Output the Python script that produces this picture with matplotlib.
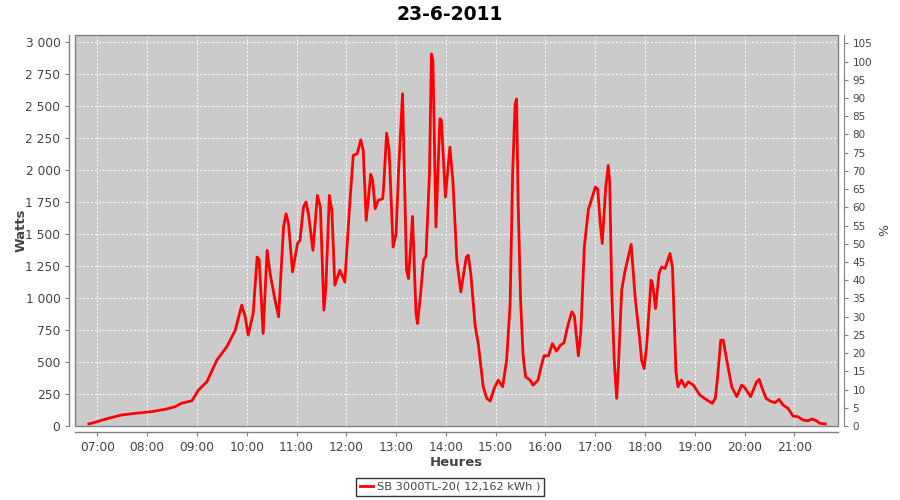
import matplotlib
matplotlib.use("Agg")
import matplotlib.pyplot as plt
from matplotlib.ticker import FixedLocator, FuncFormatter
from matplotlib.patches import Rectangle

title = "23-6-2011"
series_name = "SB 3000TL-20( 12,162 kWh )"

# time in decimal hours
hours = [6.83, 7.00, 7.22, 7.49, 7.76, 8.09, 8.36, 8.56, 8.69, 8.90,
         9.03, 9.20, 9.40, 9.60, 9.77, 9.90, 9.97, 10.03, 10.13, 10.21,
         10.25, 10.33, 10.41, 10.47, 10.57, 10.64, 10.74, 10.79, 10.84, 10.92,
         11.02, 11.07, 11.14, 11.19, 11.24, 11.33, 11.42, 11.48, 11.55, 11.59,
         11.66, 11.71, 11.77, 11.87, 11.97, 12.07, 12.14, 12.22, 12.29, 12.34,
         12.40, 12.49, 12.53, 12.58, 12.64, 12.73, 12.75, 12.81, 12.86, 12.94,
         13.00, 13.05, 13.13, 13.21, 13.25, 13.33, 13.40, 13.43, 13.49, 13.55,
         13.60, 13.67, 13.71, 13.74, 13.80, 13.88, 13.91, 13.99, 14.08, 14.14,
         14.22, 14.30, 14.41, 14.45, 14.50, 14.59, 14.65, 14.68, 14.75, 14.82,
         14.89, 14.97, 15.05, 15.14, 15.22, 15.29, 15.34, 15.39, 15.42, 15.45,
         15.50, 15.55, 15.60, 15.69, 15.75, 15.85, 15.92, 15.97, 16.06, 16.14,
         16.22, 16.30, 16.37, 16.46, 16.53, 16.58, 16.66, 16.71, 16.78, 16.86,
         16.93, 17.00, 17.05, 17.10, 17.14, 17.21, 17.26, 17.29, 17.33, 17.38,
         17.43, 17.46, 17.53, 17.60, 17.72, 17.80, 17.89, 17.93, 17.98, 18.03,
         18.12, 18.15, 18.21, 18.28, 18.33, 18.40, 18.50, 18.55, 18.62, 18.66,
         18.73, 18.80, 18.87, 18.97, 19.10, 19.24, 19.35, 19.41, 19.45, 19.52,
         19.57, 19.64, 19.74, 19.84, 19.94, 20.00, 20.12, 20.24, 20.29, 20.34,
         20.43, 20.51, 20.61, 20.69, 20.77, 20.87, 20.97, 21.07, 21.17, 21.27,
         21.36, 21.44, 21.51, 21.62]

watts = [16, 34, 60, 86, 99, 112, 130, 150, 177, 197,
         280, 345, 514, 618, 748, 943, 852, 709, 878, 1319,
         1300, 722, 1371, 1190, 982, 852, 1553, 1657, 1579, 1202,
         1424, 1449, 1709, 1748, 1657, 1371, 1800, 1709, 904, 1085,
         1800, 1683, 1099, 1216, 1124, 1735, 2112, 2125, 2234, 2151,
         1605, 1964, 1917, 1696, 1761, 1774, 1865, 2286, 2151, 1397,
         1501, 1995, 2593, 1216, 1151, 1636, 878, 800, 1021, 1294,
         1325, 1969, 2904, 2850, 1553, 2398, 2385, 1787, 2177, 1917,
         1294, 1047, 1319, 1333, 1190, 774, 644, 540, 306, 216,
         195, 294, 358, 306, 514, 956, 1969, 2515, 2553, 1761,
         982, 553, 384, 358, 319, 358, 475, 548, 548, 644,
         584, 631, 649, 800, 891, 860, 548, 735, 1397, 1688,
         1774, 1865, 1850, 1579, 1424, 1865, 2034, 1900, 1060, 514,
         216, 420, 1060, 1216, 1418, 1008, 683, 514, 449, 618,
         1138, 1110, 917, 1190, 1241, 1229, 1346, 1241, 423, 306,
         358, 306, 345, 319, 242, 203, 177, 216, 358, 670,
         670, 514, 306, 229, 319, 300, 229, 345, 364, 306,
         216, 195, 182, 208, 164, 138, 78, 72, 47, 41,
         55, 41, 21, 16]

hour_ticks = list(range(7, 22))
hour_labels = ["%02d:00" % h for h in hour_ticks]
watt_ticks = list(range(0, 3001, 250))
pct_ticks = list(range(0, 106, 5))

GRAY = "#808080"
TXT = "#444444"

fig = plt.figure(figsize=(9, 5), dpi=100)
ax = fig.add_axes([75/900, 1-426/500, (838-75)/900, (426-35)/500])
ax.set_facecolor("#cbcbcb")

ax.plot(hours, watts, color="#ff0000", lw=2.0, label=series_name, zorder=3)

ax.set_xlim(6.552, 21.874)
ax.set_ylim(0, 3052)
ax.xaxis.set_major_locator(FixedLocator(hour_ticks))
ax.set_xticklabels(hour_labels)
ax.yaxis.set_major_locator(FixedLocator(watt_ticks))
ax.yaxis.set_major_formatter(FuncFormatter(lambda v, p: "{:,}".format(int(v)).replace(",", " ")))

ax.grid(True, color="white", linestyle=(0, (2, 2)), linewidth=0.7)
ax.set_axisbelow(True)

for s in ["top", "right"]:
    ax.spines[s].set_visible(False)
for s in ["left", "bottom"]:
    ax.spines[s].set_position(("outward", 4))
    ax.spines[s].set_color(GRAY)
    ax.spines[s].set_linewidth(1.0)
ax.tick_params(axis="both", colors=GRAY, labelcolor=TXT, labelsize=8.8, length=3, width=0.8)

ax.add_patch(Rectangle((0, 0), 1, 1, transform=ax.transAxes, fill=False,
                       edgecolor=GRAY, linewidth=1.0, clip_on=False, zorder=4))

ax.set_xlabel("Heures", fontsize=9.5, fontweight="bold", color=TXT, labelpad=2)
ax.set_ylabel("Watts", fontsize=9.5, fontweight="bold", color=TXT)
ax.yaxis.label.set_va("center")
ax.yaxis.set_label_coords((21 - 75) / 763, 0.5)

ax2 = ax.twinx()
ax2.set_ylim(0, 107.3)
ax2.yaxis.set_major_locator(FixedLocator(pct_ticks))
for s in ["top", "left", "bottom"]:
    ax2.spines[s].set_visible(False)
ax2.spines["right"].set_position(("outward", 4))
ax2.spines["right"].set_color(GRAY)
ax2.tick_params(axis="y", colors=GRAY, labelcolor=TXT, labelsize=7.5, length=3, width=0.8)
ax2.set_ylabel("%", fontsize=9, color=TXT, labelpad=4)

fig.text(0.5, 1-14/500, title, ha="center", va="center", fontsize=13.5, fontweight="bold", color="black")

leg = fig.legend(loc="lower center", bbox_to_anchor=(0.5, 0.002), fontsize=8.2,
                 frameon=True, fancybox=False, handlelength=1.2, handletextpad=0.3,
                 borderpad=0.35, borderaxespad=0.3)
leg.get_frame().set_edgecolor("black")
leg.get_frame().set_linewidth(1.0)
for t in leg.get_texts():
    t.set_color(TXT)

fig.savefig("out.png", dpi=100)
